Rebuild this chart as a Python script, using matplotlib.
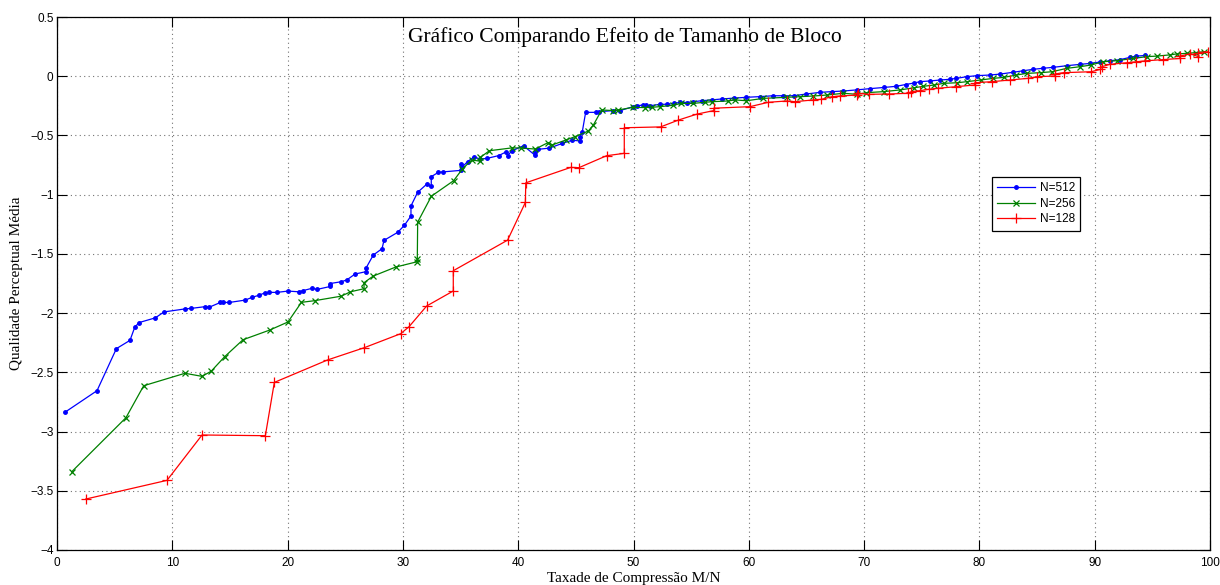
import matplotlib
matplotlib.use("Agg")
import matplotlib.pyplot as plt

title = "Gráfico Comparando Efeito de Tamanho de Bloco"
xlabel = "Taxade de Compressão M/N"
ylabel = "Qualidade Perceptual Média"
labels = ["N=512", "N=256", "N=128"]

x_512 = [0.72, 3.47, 5.15, 6.33, 6.74, 7.11, 8.53, 9.28, 11.07, 11.65, 12.81, 13.21, 14.17, 14.37, 14.95,
         16.33, 16.91, 17.49, 18.01, 18.42, 19.08, 20.03, 20.96, 21.34, 22.14, 22.55, 23.7, 23.7, 24.66,
         25.13, 25.85, 26.8, 26.8, 27.43, 28.19, 28.36, 29.55, 30.12, 30.7, 30.7, 31.28, 32.06, 32.46,
         32.46, 33.07, 33.45, 35.0, 35.0, 35.15, 35.62, 36.17, 36.72, 37.32, 38.32, 38.92, 39.08, 39.45,
         40.46, 41.42, 41.42, 41.75, 42.7, 43.83, 44.7, 45.36, 45.36, 45.56, 45.85, 46.72, 46.98, 48.25,
         48.83, 49.98, 50.27, 50.85, 51.05, 51.4, 52.3, 52.9, 53.55, 54.03, 54.6, 55.2, 55.9, 56.8, 57.65,
         58.7, 59.8, 61.0, 62.1, 63.0, 63.9, 65.0, 66.2, 67.2, 68.2, 69.4, 70.5, 71.7, 72.8, 73.6, 74.3,
         74.85, 75.7, 76.6, 77.45, 78.0, 78.9, 79.8, 80.9, 81.8, 82.9, 83.8, 84.65, 85.5, 86.4, 87.6, 88.7,
         89.6, 90.5, 91.3, 92.2, 93.1, 93.6, 94.4]
y_512 = [-2.835, -2.655, -2.30, -2.23, -2.12, -2.08, -2.04, -1.99, -1.965, -1.96, -1.946, -1.95, -1.91,
         -1.91, -1.91, -1.89, -1.867, -1.85, -1.83, -1.825, -1.825, -1.814, -1.82, -1.81, -1.79, -1.80,
         -1.775, -1.75, -1.735, -1.72, -1.67, -1.65, -1.62, -1.51, -1.456, -1.386, -1.318, -1.26, -1.18,
         -1.095, -0.98, -0.912, -0.93, -0.848, -0.812, -0.808, -0.795, -0.744, -0.766, -0.72, -0.681,
         -0.70, -0.693, -0.67, -0.64, -0.67, -0.63, -0.587, -0.664, -0.64, -0.617, -0.607, -0.567, -0.54,
         -0.547, -0.51, -0.468, -0.305, -0.305, -0.30, -0.29, -0.29, -0.257, -0.25, -0.243, -0.243, -0.25,
         -0.237, -0.237, -0.23, -0.22, -0.222, -0.215, -0.207, -0.20, -0.192, -0.185, -0.178, -0.172,
         -0.165, -0.165, -0.165, -0.15, -0.136, -0.13, -0.125, -0.115, -0.105, -0.095, -0.085, -0.07,
         -0.058, -0.046, -0.04, -0.032, -0.026, -0.018, -0.004, 0.005, 0.01, 0.018, 0.033, 0.046, 0.058,
         0.067, 0.075, 0.089, 0.10, 0.108, 0.12, 0.13, 0.14, 0.16, 0.17, 0.175]

x_256 = [1.27, 5.98, 7.52, 11.1, 12.58, 13.38, 14.54, 16.13, 18.45, 20.03, 21.2, 22.35, 24.65, 25.45,
         26.63, 26.63, 27.43, 29.38, 31.25, 31.25, 31.28, 32.47, 34.4, 35.16, 35.97, 36.72, 36.72, 37.5,
         39.46, 40.26, 41.48, 42.6, 42.9, 44.15, 44.93, 46.08, 46.52, 47.24, 48.25, 48.69, 49.98, 51.0,
         51.6, 52.3, 53.45, 54.1, 55.2, 56.2, 56.8, 58.2, 58.8, 59.8, 61.26, 63.3, 64.4, 65.6, 66.76,
         68.2, 69.4, 70.2, 71.7, 73.1, 74.3, 75.15, 76.1, 76.9, 78.1, 78.9, 80.1, 81.2, 82.1, 83.2, 84.1,
         85.3, 86.3, 87.6, 88.7, 89.7, 90.7, 91.9, 93.3, 94.5, 95.4, 96.5, 97.1, 98.0, 98.8, 99.5]
y_256 = [-3.34, -2.883, -2.613, -2.508, -2.534, -2.49, -2.368, -2.225, -2.143, -2.075, -1.909, -1.895,
         -1.857, -1.82, -1.794, -1.743, -1.687, -1.611, -1.566, -1.54, -1.232, -1.013, -0.882, -0.783,
         -0.707, -0.718, -0.685, -0.629, -0.605, -0.606, -0.615, -0.56, -0.582, -0.538, -0.51, -0.463,
         -0.412, -0.285, -0.29, -0.285, -0.262, -0.265, -0.262, -0.257, -0.245, -0.23, -0.229, -0.22,
         -0.215, -0.209, -0.2, -0.207, -0.187, -0.178, -0.173, -0.167, -0.159, -0.144, -0.153, -0.139,
         -0.13, -0.116, -0.098, -0.085, -0.074, -0.06, -0.055, -0.046, -0.032, -0.018, -0.01, 0.01, 0.024,
         0.03, 0.038, 0.067, 0.08, 0.095, 0.122, 0.131, 0.15, 0.165, 0.17, 0.18, 0.188, 0.193, 0.20, 0.207]

x_128 = [2.49, 9.54, 12.58, 18.07, 18.85, 23.48, 26.65, 29.8, 30.53, 32.06, 34.37, 34.37, 39.08, 40.62,
         40.66, 44.55, 45.27, 47.67, 49.2, 49.2, 52.35, 53.9, 55.5, 56.97, 56.97, 60.1, 61.7, 63.3, 64.0,
         65.6, 66.3, 67.2, 67.9, 69.4, 69.5, 70.4, 72.2, 73.8, 74.1, 74.85, 75.6, 76.4, 78.0, 79.6, 79.6,
         81.1, 82.65, 84.2, 85.0, 86.55, 86.6, 87.3, 89.7, 90.5, 90.6, 91.3, 92.8, 93.6, 94.4, 95.9, 97.4,
         97.4, 98.3, 99.0, 99.0, 99.85]
y_128 = [-3.57, -3.412, -3.029, -3.035, -2.585, -2.395, -2.292, -2.174, -2.115, -1.94, -1.813, -1.642,
         -1.384, -1.066, -0.90, -0.77, -0.772, -0.671, -0.651, -0.435, -0.428, -0.37, -0.32, -0.29, -0.27,
         -0.257, -0.22, -0.209, -0.215, -0.2, -0.195, -0.173, -0.167, -0.159, -0.144, -0.153, -0.15,
         -0.144, -0.13, -0.122, -0.11, -0.102, -0.088, -0.074, -0.055, -0.046, -0.032, -0.018, -0.004,
         0.002, 0.02, 0.03, 0.038, 0.058, 0.08, 0.10, 0.114, 0.122, 0.13, 0.14, 0.15, 0.17, 0.19, 0.165,
         0.2, 0.207]

x_ticks = [0, 10, 20, 30, 40, 50, 60, 70, 80, 90, 100]
y_ticks = [-4, -3.5, -3, -2.5, -2, -1.5, -1, -0.5, 0, 0.5]
y_ticklabels = ["\u22124", "\u22123.5", "\u22123", "\u22122.5", "\u22122", "\u22121.5", "\u22121",
                "\u22120.5", "0", "0.5"]

serif = ["Liberation Serif", "DejaVu Serif"]
sans = ["Liberation Sans", "DejaVu Sans"]

fig = plt.figure(figsize=(12.2, 5.85), dpi=100)
ax = fig.add_axes([57 / 1220, 1 - 550 / 585, (1210 - 57) / 1220, (550 - 17) / 585])

ax.plot(x_512, y_512, color=(0, 0, 1), marker='.', markersize=5, linewidth=0.9, label=labels[0])
ax.plot(x_256, y_256, color=(0, 0.5, 0), marker='x', markersize=4, markeredgewidth=0.9,
        linewidth=0.9, label=labels[1])
ax.plot(x_128, y_128, color=(1, 0, 0), marker='+', markersize=7, markeredgewidth=0.9,
        linewidth=0.9, label=labels[2])

ax.set_xlim(0, 100)
ax.set_ylim(-4, 0.5)
ax.set_xticks(x_ticks)
ax.set_xticklabels([str(v) for v in x_ticks], fontfamily=sans, fontsize=8.5)
ax.set_yticks(y_ticks)
ax.set_yticklabels(y_ticklabels, fontfamily=sans, fontsize=8.5)
ax.tick_params(direction='in', length=7, width=0.8, top=True, right=True)
ax.tick_params(axis='x', pad=5)
ax.tick_params(axis='y', pad=2.5)
ax.grid(True, linestyle=(0, (1, 3)), color='0.45', linewidth=0.8)
for s in ax.spines.values():
    s.set_linewidth(0.9)

ax.text(0.4926, 0.982, title, transform=ax.transAxes, ha='center', va='top',
        fontfamily=serif, fontsize=15.5)
ax.set_xlabel(xlabel, fontfamily=serif, fontsize=11, labelpad=2)
ax.set_ylabel(ylabel, fontfamily=serif, fontsize=11, labelpad=5)

leg = ax.legend(loc='upper left', bbox_to_anchor=(0.811, 0.70), borderaxespad=0,
                prop={'family': sans, 'size': 8.5},
                fancybox=False, framealpha=1, edgecolor='black', handlelength=3.2,
                borderpad=0.45, labelspacing=0.3, handletextpad=0.4)
leg.get_frame().set_linewidth(0.9)

fig.savefig("out.png", dpi=100)
